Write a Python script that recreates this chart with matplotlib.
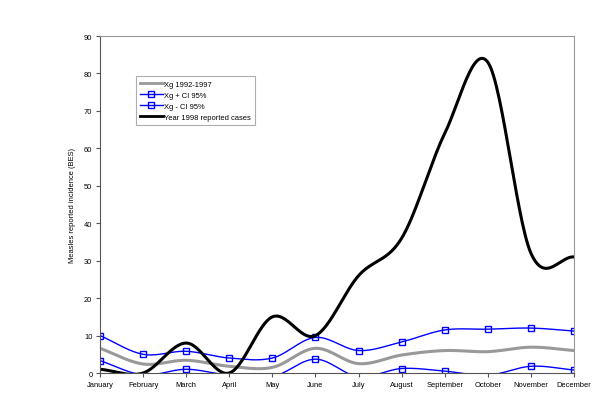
import numpy as np
import matplotlib
matplotlib.use("Agg")
import matplotlib.pyplot as plt
from matplotlib.lines import Line2D

plt.rcParams['font.family'] = ['Liberation Sans', 'DejaVu Sans']

months = ["January", "February", "March", "April", "May", "June", "July",
          "August", "September", "October", "November", "December"]
xg_mean = [6.6, 2.4, 3.4, 1.8, 1.5, 6.6, 2.5, 4.8, 6.0, 5.7, 6.9, 6.0]
xg_plus = [10.0, 5.0, 5.8, 4.0, 4.0, 9.5, 6.0, 8.3, 11.5, 11.7, 12.0, 11.2]
xg_minus = [3.3, -0.5, 1.0, -0.6, -1.0, 3.7, -1.0, 1.2, 0.5, -0.6, 1.8, 0.8]
cases_1998 = [1, 0, 8, 0, 15, 10, 26, 36, 64, 83, 32, 31]
yticks = [0, 10, 20, 30, 40, 50, 60, 70, 80, 90]


def smooth(y, n=30):
    y = np.asarray(y, float)
    x = np.arange(len(y), dtype=float)
    p = np.concatenate([[2 * y[0] - y[1]], y, [2 * y[-1] - y[-2]]])
    xs, ys = [], []
    for i in range(len(y) - 1):
        p0, p1, p2, p3 = p[i], p[i + 1], p[i + 2], p[i + 3]
        t = np.linspace(0, 1, n, endpoint=False)
        seg = 0.5 * ((2 * p1) + (-p0 + p2) * t + (2 * p0 - 5 * p1 + 4 * p2 - p3) * t ** 2
                     + (-p0 + 3 * p1 - 3 * p2 + p3) * t ** 3)
        xs.append(x[i] + t)
        ys.append(seg)
    xs.append([x[-1]])
    ys.append([y[-1]])
    return np.concatenate(xs), np.concatenate(ys)


fig = plt.figure(figsize=(6, 4.06), dpi=100)
ax = fig.add_axes([0.1667, 0.0788, 0.79, 0.830])
x = np.arange(len(months))

blue = '#0000ff'
sx, sy = smooth(xg_mean)
ax.plot(sx, sy, color='#999999', lw=2.2)
sx, sy = smooth(xg_plus)
ax.plot(sx, sy, color=blue, lw=1.0)
ax.plot(x, xg_plus, 's', ms=4.5, mfc='none', mec=blue, mew=1.0)
sx, sy = smooth(xg_minus)
ax.plot(sx, sy, color=blue, lw=1.0)
vis = np.array(xg_minus) >= 0
ax.plot(x[vis], np.array(xg_minus)[vis], 's', ms=4.5, mfc='none', mec=blue, mew=1.0)
sx, sy = smooth(cases_1998)
ax.plot(sx, sy, color='black', lw=2.2)

fs = 5.4
handles = [Line2D([], [], color='#999999', lw=2.0),
           Line2D([], [], color=blue, lw=1.0, marker='s', ms=4.5, mfc='none', mec=blue),
           Line2D([], [], color=blue, lw=1.0, marker='s', ms=4.5, mfc='none', mec=blue),
           Line2D([], [], color='black', lw=2.0)]
labels = ['Xg 1992-1997', 'Xg + CI 95%', 'Xg - CI 95%', 'Year 1998 reported cases']
leg = ax.legend(handles, labels, loc='upper left', bbox_to_anchor=(0.076, 0.881),
                fontsize=fs, frameon=True, fancybox=False, edgecolor='#999999',
                handlelength=3.0, handletextpad=0.15, borderpad=0.55, labelspacing=0.5,
                borderaxespad=0)
leg.get_frame().set_linewidth(0.8)

ax.set_xlim(0, 11)
ax.set_ylim(0, 90)
ax.set_xticks(x)
ax.set_xticklabels(months, fontsize=fs)
ax.set_yticks(yticks)
ax.set_yticklabels([str(v) for v in yticks], fontsize=fs)
ax.set_ylabel('Measles reported incidence (BES)', fontsize=fs, labelpad=6)
ax.tick_params(axis='both', direction='out', length=3, width=0.8, color='#555555', pad=2.5)
for s in ['top', 'right']:
    ax.spines[s].set_color('#999999')
    ax.spines[s].set_linewidth(0.8)
for s in ['left', 'bottom']:
    ax.spines[s].set_color('#555555')
    ax.spines[s].set_linewidth(0.8)

fig.savefig('out.png', dpi=100)
